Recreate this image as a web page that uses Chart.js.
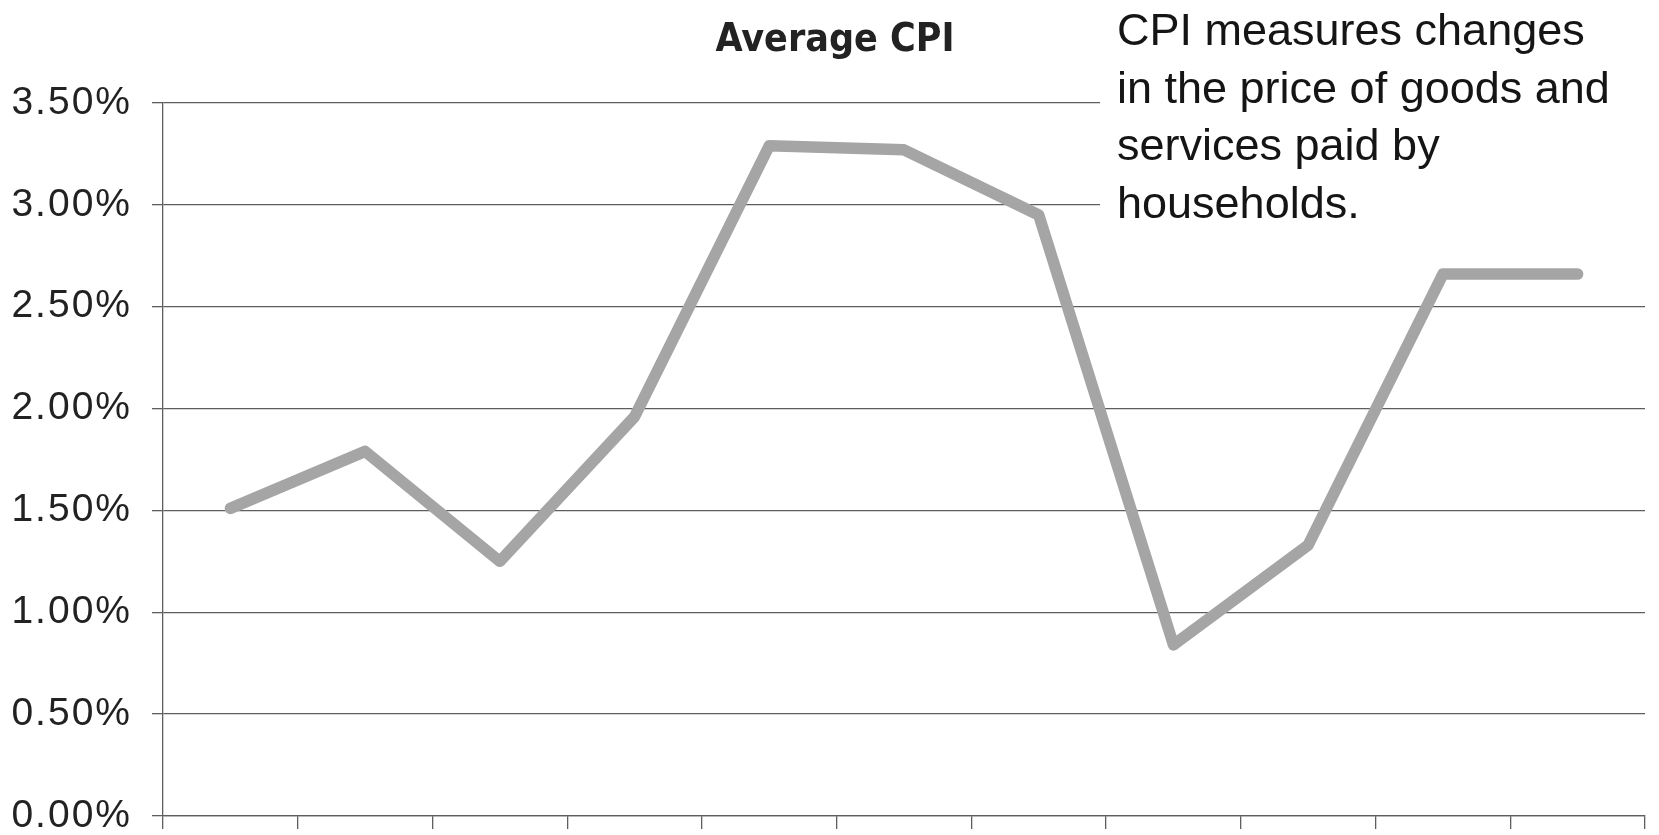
<!DOCTYPE html>
<html>
<head>
<meta charset="utf-8">
<title>Average CPI</title>
<script src="https://cdn.jsdelivr.net/npm/chart.js@4.4.1/dist/chart.umd.min.js"></script>
<style>
  html, body { margin: 0; padding: 0; background: #ffffff; }
  #wrap { position: relative; width: 1659px; height: 835px; }
</style>
</head>
<body>
<div id="wrap"><canvas id="cpi"></canvas></div>
<script>
// Eleven unlabelled periods along the x axis
const categories = ['', '', '', '', '', '', '', '', '', '', ''];
// Average CPI, percent
const avgCpi = [1.51, 1.79, 1.25, 1.96, 3.29, 3.27, 2.95, 0.84, 1.33, 2.66, 2.66];
// Y axis range and step, percent
const yTicks = { min: 0, max: 3.5, step: 0.5 };
const titleText = 'Average CPI';
const noteLines = [
  'CPI measures changes',
  'in the price of goods and',
  'services paid by',
  'households.'
];

const gridColor = '#5e5e5e';

// Slightly tracked-out text for the axis labels
const spacingPlugin = {
  id: 'labelSpacing',
  beforeDraw(chart) {
    chart.ctx.letterSpacing = '2px';
  }
};

// Title plus the explanatory note in the upper right, on a white panel over the grid
const headerPlugin = {
  id: 'header',
  afterDraw(chart) {
    const ctx = chart.ctx;
    ctx.save();
    ctx.letterSpacing = '0px';

    ctx.fillStyle = '#222222';
    ctx.font = 'bold 39px "DejaVu Sans Condensed", "Liberation Sans Narrow", "Liberation Sans", sans-serif';
    ctx.textAlign = 'center';
    ctx.textBaseline = 'alphabetic';
    ctx.fillText(titleText, 835, 51);

    ctx.fillStyle = '#ffffff';
    ctx.fillRect(1100, 0, chart.width - 1100, 238);
    ctx.fillStyle = '#151515';
    ctx.font = '45px "Liberation Sans", Arial, sans-serif';
    ctx.textAlign = 'left';
    noteLines.forEach((line, i) => {
      ctx.fillText(line, 1117, 45 + i * 57.5);
    });
    ctx.restore();
    ctx.letterSpacing = '0px';
  }
};

new Chart(document.getElementById('cpi'), {
  type: 'line',
  data: {
    labels: categories,
    datasets: [{
      data: avgCpi,
      borderColor: '#a5a5a5',
      borderWidth: 11.5,
      borderCapStyle: 'round',
      borderJoinStyle: 'round',
      pointRadius: 0,
      pointHoverRadius: 0,
      tension: 0,
      fill: false
    }]
  },
  options: {
    responsive: true,
    maintainAspectRatio: false,
    animation: false,
    events: [],
    layout: { padding: { left: 0, right: 14, top: 103, bottom: 0 } },
    plugins: {
      legend: { display: false },
      tooltip: { enabled: false },
      title: { display: false }
    },
    scales: {
      x: {
        offset: true,
        ticks: { display: false },
        grid: {
          offset: true,
          drawOnChartArea: false,
          drawTicks: true,
          tickLength: 13,
          color: gridColor,
          lineWidth: 1.3
        },
        border: { display: true, color: gridColor, width: 1.3 },
        afterFit(scale) { scale.height = 19; }
      },
      y: {
        min: yTicks.min,
        max: yTicks.max,
        ticks: {
          stepSize: yTicks.step,
          color: '#222222',
          padding: 20,
          font: { family: '"Liberation Sans", Arial, sans-serif', size: 39 },
          callback: (v) => Number(v).toFixed(2) + '%'
        },
        grid: {
          drawOnChartArea: true,
          drawTicks: true,
          tickLength: 11,
          color: gridColor,
          lineWidth: 1.3
        },
        border: { display: true, color: gridColor, width: 1.3 },
        afterFit(scale) {
          scale.width = 163;
          scale.paddingTop = 0;
          scale.paddingBottom = 0;
        }
      }
    }
  },
  plugins: [spacingPlugin, headerPlugin]
});
</script>
</body>
</html>
